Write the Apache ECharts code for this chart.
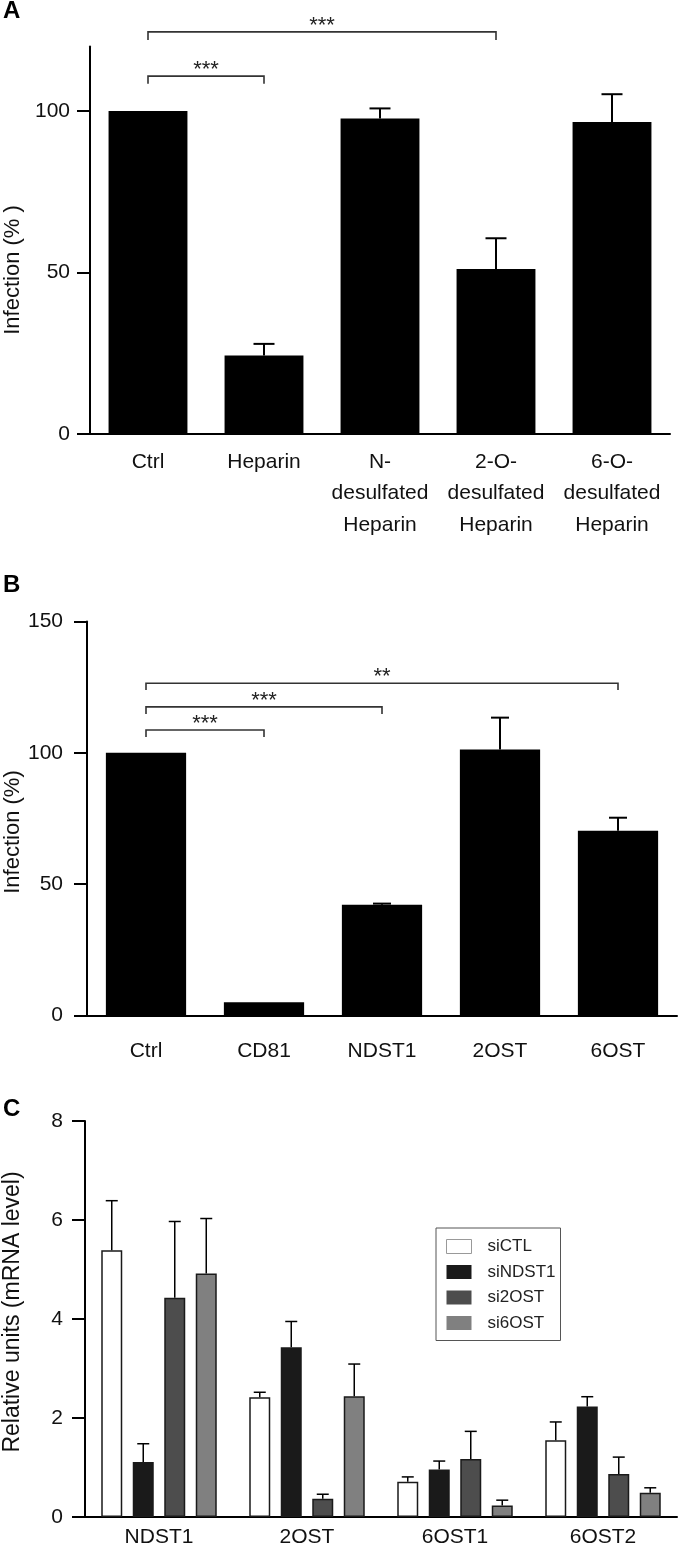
<!DOCTYPE html>
<html><head><meta charset="utf-8">
<script src="https://cdn.jsdelivr.net/npm/echarts@6/dist/echarts.min.js"></script>
<style>html,body{margin:0;padding:0;background:#fff}#c{width:680px;height:1554px}</style>
</head><body><div id="c"></div>
<script>
// ---------- Panel A ----------
const catsA = ['Ctrl', 'Heparin', 'N-\ndesulfated\nHeparin', '2-O-\ndesulfated\nHeparin', '6-O-\ndesulfated\nHeparin'];
const valsA = [100, 24.3, 97.7, 51.1, 96.6];
const errA  = [0, 3.6, 3.1, 9.5, 8.6];
const ticksA = [0, 50, 100];
// [fromIndex, toIndex, bracketY, tickEndY]
const sigA = [[0, 3, 124.5, 122], [0, 1, 110.8, 108.4]];
const sigTextA = ['***', '***'];

// ---------- Panel B ----------
const catsB = ['Ctrl', 'CD81', 'NDST1', '2OST', '6OST'];
const valsB = [100, 5.0, 42.2, 101.3, 70.3];
const errB  = [0, 0, 0.4, 12.1, 5.0];
const ticksB = [0, 50, 100, 150];
const sigB = [[0, 4, 126.5, 123.9], [0, 2, 117.5, 114.8], [0, 1, 108.7, 106.0]];
const sigTextB = ['**', '***', '***'];

// ---------- Panel C ----------
const catsC = ['NDST1', '2OST', '6OST1', '6OST2'];
const namesC = ['siCTL', 'siNDST1', 'si2OST', 'si6OST'];
const siCTL      = [5.39, 2.42, 0.71, 1.55];
const siCTLErr   = [1.00, 0.10, 0.10, 0.37];
const siNDST1    = [1.11, 3.43, 0.96, 2.23];
const siNDST1Err = [0.37, 0.52, 0.17, 0.20];
const si2OST     = [4.43, 0.37, 1.17, 0.87];
const si2OSTErr  = [1.54, 0.09, 0.56, 0.34];
const si6OST     = [4.92, 2.44, 0.23, 0.49];
const si6OSTErr  = [1.11, 0.65, 0.11, 0.10];
const ticksC = [0, 2, 4, 6, 8];

const valsC = [siCTL, siNDST1, si2OST, si6OST];
const errsC = [siCTLErr, siNDST1Err, si2OSTErr, si6OSTErr];
const colorsC = ['#ffffff', '#1a1a1a', '#4d4d4d', '#808080'];

const FF = 'Liberation Sans, Arial, Helvetica, sans-serif';
const chart = echarts.init(document.getElementById('c'), null, {renderer: 'canvas'});

function yAxis(gi, max, ticks, margin) {
  return {
    gridIndex: gi, type: 'value', min: 0, max: max,
    axisLine: {show: true, lineStyle: {color: '#000', width: 2}},
    axisTick: {show: true, length: 13, lineStyle: {color: '#000', width: 2}, customValues: ticks},
    axisLabel: {customValues: ticks, margin: margin, fontSize: 21, color: '#111', fontFamily: FF},
    splitLine: {show: false}
  };
}
function xAxis(gi, cats, margin, lh) {
  return {
    gridIndex: gi, type: 'category', data: cats,
    axisLine: {show: true, lineStyle: {color: '#000', width: 2}},
    axisTick: {show: false},
    axisLabel: {margin: margin, fontSize: 21, color: '#111', fontFamily: FF, lineHeight: lh, interval: 0}
  };
}
function errSeries(ai, vals, errs, offset, capW, lw) {
  const data = [];
  vals.forEach((v, i) => { if (errs[i] > 0) data.push([i, v, v + errs[i]]); });
  return {
    type: 'custom', xAxisIndex: ai, yAxisIndex: ai, z: 5, clip: false,
    encode: {x: 0, y: [1, 2]},
    data: data,
    renderItem: (params, api) => {
      const p0 = api.coord([api.value(0), api.value(1)]);
      const p1 = api.coord([api.value(0), api.value(2)]);
      const x = p0[0] + offset;
      return {type: 'group', children: [
        {type: 'line', shape: {x1: x, y1: p0[1], x2: x, y2: p1[1]}, style: {stroke: '#000', lineWidth: lw}},
        {type: 'line', shape: {x1: x - capW / 2, y1: p1[1], x2: x + capW / 2, y2: p1[1]}, style: {stroke: '#000', lineWidth: lw}}
      ]};
    }
  };
}
function sigSeries(ai, sig, texts) {
  return {
    type: 'custom', xAxisIndex: ai, yAxisIndex: ai, z: 6, clip: false,
    encode: {x: [0, 1], y: [2, 3]},
    data: sig,
    renderItem: (params, api) => {
      const a = api.coord([api.value(0), api.value(2)]);
      const b = api.coord([api.value(1), api.value(2)]);
      const t = api.coord([api.value(0), api.value(3)]);
      return {type: 'group', children: [
        {type: 'polyline', shape: {points: [[a[0], t[1]], [a[0], a[1]], [b[0], a[1]], [b[0], t[1]]]},
         style: {stroke: '#333', lineWidth: 1.6, fill: null}},
        {type: 'text', style: {text: texts[params.dataIndex], x: (a[0] + b[0]) / 2, y: a[1] - 6,
          align: 'center', verticalAlign: 'middle', fontSize: 22, fontFamily: FF, fill: '#222'}}
      ]};
    }
  };
}

// bar layout in panel C
const bwC = 21, gapC = 0.5;
const nC = namesC.length;
const totalC = nC * bwC + (nC - 1) * bwC * gapC;
const offsetsC = namesC.map((_, k) => -totalC / 2 + bwC / 2 + k * bwC * (1 + gapC));

const series = [
  {type: 'bar', xAxisIndex: 0, yAxisIndex: 0, data: valsA, barCategoryGap: '32%', itemStyle: {color: '#000'}},
  errSeries(0, valsA, errA, 0, 21, 2),
  sigSeries(0, sigA, sigTextA),
  {type: 'bar', xAxisIndex: 1, yAxisIndex: 1, data: valsB, barCategoryGap: '32%', itemStyle: {color: '#000'}},
  errSeries(1, valsB, errB, 0, 18, 2),
  sigSeries(1, sigB, sigTextB)
];
namesC.forEach((nm, k) => {
  series.push({type: 'bar', name: nm, xAxisIndex: 2, yAxisIndex: 2, data: valsC[k], barWidth: bwC, barGap: '50%',
    itemStyle: {color: colorsC[k], borderColor: '#1a1a1a', borderWidth: 1.5}});
});
namesC.forEach((nm, k) => {
  series.push(errSeries(2, valsC[k], errsC[k], offsetsC[k], 12, 1.5));
});

const option = {
  animation: false,
  backgroundColor: '#fff',
  grid: [
    {left: 90, top: 46.4, width: 580, height: 387.6},
    {left: 87, top: 621.5, width: 590, height: 394},
    {left: 85, top: 1121, width: 592, height: 396}
  ],
  xAxis: [xAxis(0, catsA, 12, 31.5), xAxis(1, catsB, 24, 24), xAxis(2, catsC, 8, 24)],
  yAxis: [yAxis(0, 120, ticksA, 20), yAxis(1, 150, ticksB, 24), yAxis(2, 8, ticksC, 22)],
  legend: {
    orient: 'vertical', left: 436, top: 1228, itemWidth: 25, itemHeight: 14, itemGap: 8.5,
    borderColor: '#555', borderWidth: 1, padding: [10, 5, 9, 10], icon: 'rect',
    textStyle: {fontSize: 17, color: '#222', fontFamily: FF, lineHeight: 17, padding: [0, 0, 0, 11]},
    data: [
      {name: 'siCTL', itemStyle: {borderColor: '#999', borderWidth: 1}},
      {name: 'siNDST1', itemStyle: {borderWidth: 0}},
      {name: 'si2OST', itemStyle: {borderWidth: 0}},
      {name: 'si6OST', itemStyle: {borderWidth: 0}}
    ]
  },
  graphic: [
    {type: 'text', x: 3, y: 11.7, style: {text: 'A', fontSize: 24, fontWeight: 'bold', fontFamily: FF, fill: '#000', verticalAlign: 'middle'}},
    {type: 'text', x: 3, y: 585, style: {text: 'B', fontSize: 24, fontWeight: 'bold', fontFamily: FF, fill: '#000', verticalAlign: 'middle'}},
    {type: 'text', x: 3, y: 1109.5, style: {text: 'C', fontSize: 24, fontWeight: 'bold', fontFamily: FF, fill: '#000', verticalAlign: 'middle'}},
    {type: 'text', x: 13, y: 270, rotation: Math.PI / 2, style: {text: 'Infection (% )', fontSize: 22, fontFamily: FF, fill: '#111', align: 'center', verticalAlign: 'middle'}},
    {type: 'text', x: 13, y: 832, rotation: Math.PI / 2, style: {text: 'Infection (%)', fontSize: 22, fontFamily: FF, fill: '#111', align: 'center', verticalAlign: 'middle'}},
    {type: 'text', x: 13, y: 1312, rotation: Math.PI / 2, style: {text: 'Relative units (mRNA level)', fontSize: 23, fontFamily: FF, fill: '#111', align: 'center', verticalAlign: 'middle'}}
  ],
  series: series
};
chart.setOption(option);
</script>
</body></html>
